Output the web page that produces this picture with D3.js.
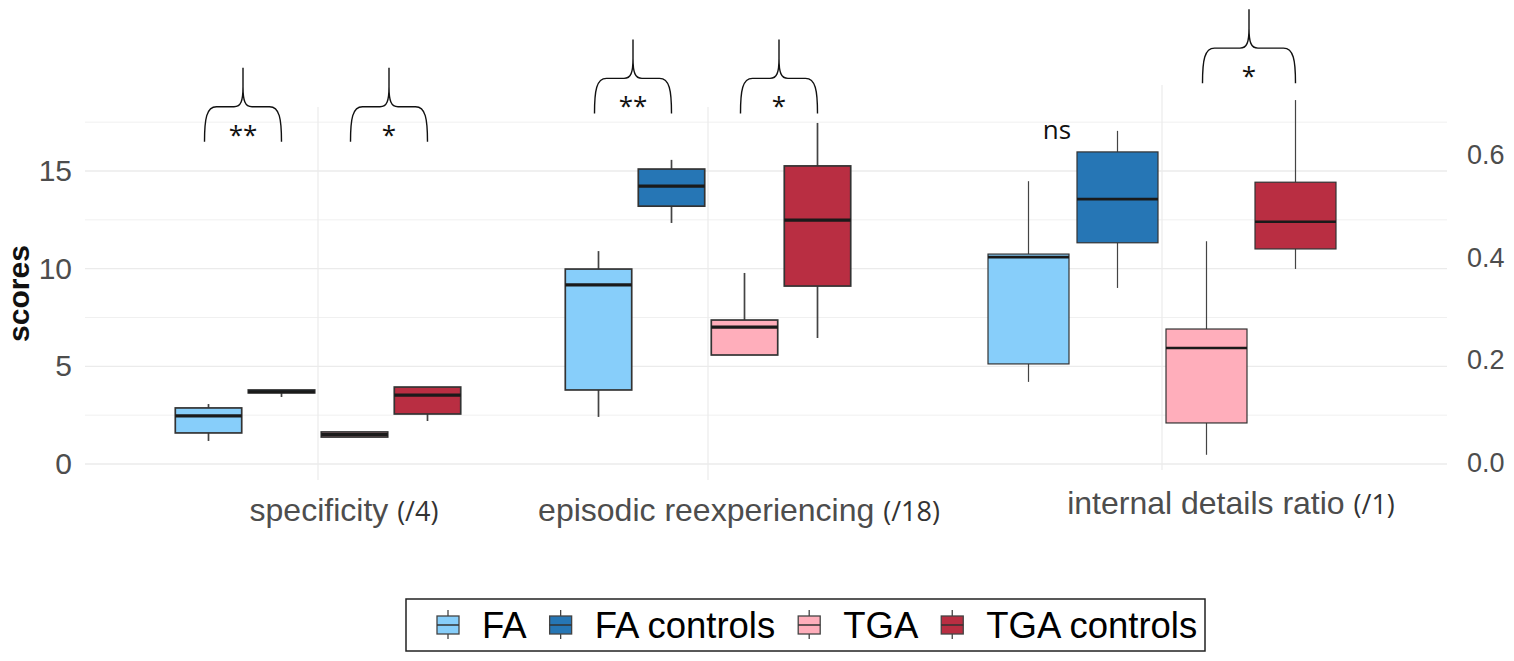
<!DOCTYPE html>
<html lang="en">
<head>
  <meta charset="UTF-8">
  <title>Autobiographical memory scores</title>
  <script src="https://d3js.org/d3.v7.min.js"></script>
  <style>
    body { margin: 0; background: #ffffff; }
    svg { display: block; }
    .tick text { fill: #4d4d4d; font-family: "Liberation Sans", Arial, sans-serif; }
    .grid-major { stroke: #ebebeb; stroke-width: 1.3px; }
    .grid-minor { stroke: #f0f0f0; stroke-width: 1px; }
    .grid-v { stroke: #ebebeb; stroke-width: 1.2px; }
    .brace { fill: none; stroke: #111; stroke-width: 1.4px; }
    .sig { font-family: "Open Sans", sans-serif; font-size: 26px; fill: #111; text-anchor: middle; }
  </style>
</head>
<body>
  <div id="chart"></div>

  <script>
    // ------------------------ Data ------------------------

    const groups = ["FA", "FA controls", "TGA", "TGA controls"];
    const groupColors = ["#87cefa", "#2676b5", "#ffaebb", "#b92e42"];

    const leftMeasures = ["specificity", "episodic reexperiencing"];
    const rightMeasures = ["internal details ratio"];
    const measureMax = { "specificity": "(/4)", "episodic reexperiencing": "(/18)", "internal details ratio": "(/1)" };

    // five-number summaries per group: [lower whisker, Q1, median, Q3, upper whisker]
    const specificityStats = [
      [1.18, 1.59, 2.46, 2.87, 3.07],
      [3.43, 3.64, 3.70, 3.79, 3.79],
      [1.38, 1.38, 1.50, 1.64, 1.64],
      [2.20, 2.56, 3.53, 3.94, 3.94]
    ];
    const episodicStats = [
      [2.41, 3.79, 9.17, 9.98, 10.90],
      [12.34, 13.20, 14.23, 15.10, 15.57],
      [5.58, 5.58, 7.01, 7.37, 9.78],
      [6.45, 9.11, 12.49, 15.26, 17.46]
    ];
    const internalStats = [
      [0.158, 0.193, 0.401, 0.407, 0.549],
      [0.341, 0.429, 0.514, 0.606, 0.647],
      [0.016, 0.078, 0.224, 0.261, 0.432],
      [0.378, 0.417, 0.470, 0.547, 0.707]
    ];

    const leftTicks = [0, 5, 10, 15];
    const rightTicks = [0, 0.2, 0.4, 0.6];
    const gridValues = [0, 2.5, 5, 7.5, 10, 12.5, 15, 17.5];

    // significance braces: measure, first group, second group, label, level of the brace feet
    const brackets = [
      ["specificity", "FA", "FA controls", "**", 16.5],
      ["specificity", "TGA", "TGA controls", "*", 16.5],
      ["episodic reexperiencing", "FA", "FA controls", "**", 17.95],
      ["episodic reexperiencing", "TGA", "TGA controls", "*", 17.95],
      ["internal details ratio", "TGA", "TGA controls", "*", 0.74]
    ];

    // ------------------------ Setup ------------------------

    const W = 1514, H = 661;
    const svg = d3.select("#chart").append("svg")
      .attr("width", W).attr("height", H);

    const yL = d3.scaleLinear().domain([0, 15]).range([464, 171]);
    const yR = d3.scaleLinear().domain([0, 0.6]).range([463, 155]);
    const xL = d3.scalePoint().domain(leftMeasures).range([318, 708]);
    const xR = d3.scalePoint().domain(rightMeasures).range([1162, 1162]);
    const dodgeL = d3.scaleBand().domain(groups).range([-146, 146]);
    const dodgeR = d3.scaleBand().domain(groups).range([-178, 178]);

    const panels = [
      { measures: leftMeasures, x: xL, y: yL, dodge: dodgeL, stats: [specificityStats, episodicStats],
        x0: 85, x1: 938, vTop: 107, vBottom: 480, stroke: 1.7, median: 3.2 },
      { measures: rightMeasures, x: xR, y: yR, dodge: dodgeR, stats: [internalStats],
        x0: 938, x1: 1447, vTop: 85, vBottom: 470, stroke: 1.2, median: 2.6 }
    ];

    const centre = (p, m, g) => p.x(m) + p.dodge(g) + p.dodge.bandwidth() / 2;

    // ------------------------ Grid ------------------------

    panels.forEach(p => {
      svg.append("g").selectAll("line")
        .data(gridValues)
        .join("line")
        .attr("class", d => d % 5 === 0 ? "grid-major" : "grid-minor")
        .attr("x1", p.x0).attr("x2", p.x1)
        .attr("y1", d => yL(d)).attr("y2", d => yL(d));

      svg.append("g").selectAll("line")
        .data(p.measures)
        .join("line")
        .attr("class", "grid-v")
        .attr("x1", d => p.x(d)).attr("x2", d => p.x(d))
        .attr("y1", p.vTop).attr("y2", p.vBottom);
    });

    // ------------------------ Boxes ------------------------

    panels.forEach(p => {
      const bw = p.dodge.bandwidth() * 0.91;
      p.measures.forEach((m, mi) => {
        const rows = p.stats[mi].map((s, gi) => ({ group: groups[gi], color: groupColors[gi], s }));
        const g = svg.append("g");
        const cx = d => centre(p, m, d.group);

        g.selectAll(".whisker-lo").data(rows).join("line")
          .attr("x1", cx).attr("x2", cx)
          .attr("y1", d => p.y(d.s[0])).attr("y2", d => p.y(d.s[1]))
          .attr("stroke", "#444").attr("stroke-width", p.stroke);
        g.selectAll(".whisker-hi").data(rows).join("line")
          .attr("x1", cx).attr("x2", cx)
          .attr("y1", d => p.y(d.s[3])).attr("y2", d => p.y(d.s[4]))
          .attr("stroke", "#444").attr("stroke-width", p.stroke);

        g.selectAll("rect").data(rows).join("rect")
          .attr("x", d => cx(d) - bw / 2)
          .attr("y", d => p.y(d.s[3]))
          .attr("width", bw)
          .attr("height", d => Math.max(p.y(d.s[1]) - p.y(d.s[3]), 1))
          .attr("fill", d => d.color)
          .attr("stroke", "#333").attr("stroke-width", p.stroke);

        g.selectAll(".median").data(rows).join("line")
          .attr("x1", d => cx(d) - bw / 2).attr("x2", d => cx(d) + bw / 2)
          .attr("y1", d => p.y(d.s[2])).attr("y2", d => p.y(d.s[2]))
          .attr("stroke", "#1a1a1a").attr("stroke-width", p.median);
      });
    });

    // ------------------------ Axes ------------------------

    const axisL = svg.append("g")
      .attr("transform", "translate(80,0)")
      .call(d3.axisLeft(yL).tickValues(leftTicks).tickSize(0).tickPadding(8));
    axisL.select(".domain").remove();
    axisL.selectAll("text").style("font-size", "30px");

    const axisR = svg.append("g")
      .attr("transform", "translate(1459,0)")
      .call(d3.axisRight(yR).tickValues(rightTicks).tickSize(0).tickPadding(8).tickFormat(d3.format(".1f")));
    axisR.select(".domain").remove();
    axisR.selectAll("text").style("font-size", "27px");

    svg.append("text")
      .attr("transform", `translate(29,${(yL(0) + yL(15)) / 2 - 24}) rotate(-90)`)
      .attr("text-anchor", "middle")
      .style("font-family", "'Liberation Sans', Arial, sans-serif")
      .style("font-size", "30px").style("font-weight", "bold").style("fill", "#111")
      .text("scores");

    // category labels (placed below the panels, shifted right as in the figure)
    const catLabels = [
      { m: "specificity", x: xL("specificity") + 26, y: 521 },
      { m: "episodic reexperiencing", x: xL("episodic reexperiencing") + 31, y: 521 },
      { m: "internal details ratio", x: xR("internal details ratio") + 69, y: 514 }
    ];
    catLabels.forEach(c => {
      const t = svg.append("text")
        .attr("x", c.x).attr("y", c.y)
        .attr("text-anchor", "middle");
      t.append("tspan")
        .style("font-family", "'Liberation Sans', Arial, sans-serif")
        .style("font-size", "32px").style("fill", "#4d4d4d")
        .text(c.m + " ");
      t.append("tspan")
        .style("font-family", "'Open Sans', sans-serif")
        .style("font-size", "27px").style("fill", "#333")
        .text(measureMax[c.m]);
    });

    // ------------------------ Significance braces ------------------------

    function bracePath(x1, x2, yB) {
      const yS = yB - 35, yT = yB - 74, xm = (x1 + x2) / 2;
      return `M${x1},${yB} C${x1},${yS + 12} ${x1 + 2},${yS} ${x1 + 12},${yS}` +
        ` L${xm - 9},${yS} C${xm - 2},${yS} ${xm},${yS - 6} ${xm},${yS - 20} L${xm},${yT}` +
        ` M${xm},${yS - 20} C${xm},${yS - 6} ${xm + 2},${yS} ${xm + 9},${yS}` +
        ` L${x2 - 12},${yS} C${x2 - 2},${yS} ${x2},${yS + 12} ${x2},${yB}`;
    }

    brackets.forEach(([m, g1, g2, label, level]) => {
      const p = leftMeasures.includes(m) ? panels[0] : panels[1];
      const c1 = centre(p, m, g1);
      const c2 = centre(p, m, g2);
      const yB = p.y(level);
      svg.append("path").attr("class", "brace").attr("d", bracePath(c1 - 4, c2, yB));
      svg.append("text").attr("class", "sig")
        .attr("x", (c1 + c2) / 2 - 2).attr("y", yB + 2)
        .text(label);
    });

    // "ns" for the FA pair of the ratio panel
    const nsMid = (centre(panels[1], "internal details ratio", "FA") + centre(panels[1], "internal details ratio", "FA controls")) / 2;
    svg.append("text")
      .attr("x", nsMid - 16)
      .attr("y", 139)
      .attr("text-anchor", "middle")
      .style("font-family", "'Open Sans', sans-serif")
      .style("font-size", "26px").style("fill", "#111")
      .text("ns");

    // ------------------------ Legend ------------------------

    const legend = svg.append("g");
    legend.append("rect")
      .attr("x", 406).attr("y", 599).attr("width", 799).attr("height", 52)
      .attr("fill", "none").attr("stroke", "#222").attr("stroke-width", 1.5);

    let lx = 437;
    const ly = 625;
    groups.forEach((g, i) => {
      const item = legend.append("g").attr("transform", `translate(${lx},${ly})`);
      item.append("line").attr("x1", 11).attr("x2", 11).attr("y1", -15).attr("y2", 14)
        .attr("stroke", "#444").attr("stroke-width", 1.3);
      item.append("rect").attr("x", 0).attr("y", -9).attr("width", 22).attr("height", 18)
        .attr("fill", groupColors[i]).attr("stroke", "#444").attr("stroke-width", 1.3);
      item.append("line").attr("x1", 0).attr("x2", 22).attr("y1", 0).attr("y2", 0)
        .attr("stroke", "#333").attr("stroke-width", 1.5);
      const t = item.append("text")
        .attr("x", 45).attr("y", 13)
        .style("font-family", "'Liberation Sans', Arial, sans-serif")
        .style("font-size", "36.5px").style("fill", "#000")
        .text(g);
      lx += 45 + t.node().getComputedTextLength() + 23;
    });
  </script>
</body>
</html>
